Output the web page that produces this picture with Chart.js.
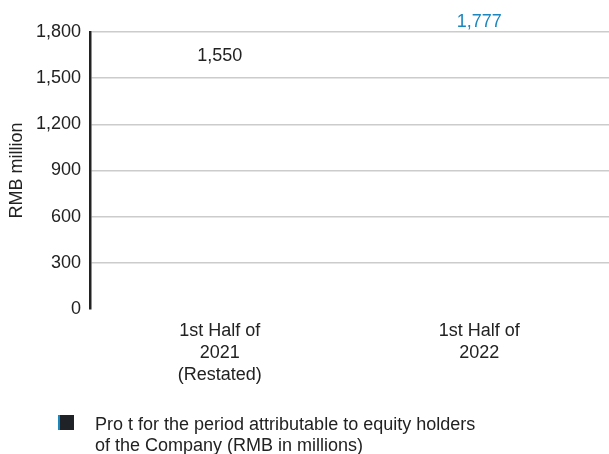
<!DOCTYPE html>
<html>
<head>
<meta charset="utf-8">
<script src="https://cdn.jsdelivr.net/npm/chart.js@4"></script>
<style>
  html, body { margin: 0; padding: 0; background: #fff; }
  #wrap { width: 609px; height: 454px; }
</style>
</head>
<body>
<div id="wrap"><canvas id="chart" width="609" height="454"></canvas></div>
<script>
// Categories and values
const categories = [['1st Half of', '2021', '(Restated)'], ['1st Half of', '2022']];
const profit = [1550, 1777];
const valueColors = ['#222222', '#1a87bf'];
const legendLines = ['Pro t for the period attributable to equity holders', 'of the Company (RMB in millions)'];
const yMax = 1800;
const yStep = 300;

const FONT = '"Liberation Sans", Arial, sans-serif';

// Value labels drawn above each (invisible) bar
const valueLabels = {
  id: 'valueLabels',
  afterDatasetsDraw(chart) {
    const ctx = chart.ctx;
    const meta = chart.getDatasetMeta(0);
    ctx.save();
    ctx.font = '18px ' + FONT;
    ctx.textAlign = 'center';
    ctx.textBaseline = 'middle';
    meta.data.forEach((bar, i) => {
      ctx.fillStyle = valueColors[i];
      ctx.fillText(profit[i].toLocaleString('en-US'), bar.x, bar.y - 14);
    });
    ctx.restore();
  }
};

// Legend box with two text lines at the bottom
const bottomLegend = {
  id: 'bottomLegend',
  afterDraw(chart) {
    const ctx = chart.ctx;
    ctx.save();
    ctx.fillStyle = '#1f2327';
    ctx.fillRect(58, 415, 16, 15);
    ctx.fillStyle = '#1a87bf';
    ctx.fillRect(58, 415, 2, 15);
    ctx.font = '18px ' + FONT;
    ctx.fillStyle = '#222222';
    ctx.textAlign = 'left';
    ctx.textBaseline = 'middle';
    legendLines.forEach((line, i) => {
      ctx.fillText(line, 95, 425 + i * 21);
    });
    ctx.restore();
  }
};

new Chart(document.getElementById('chart'), {
  type: 'bar',
  data: {
    labels: categories,
    datasets: [{
      label: legendLines.join(' '),
      data: profit,
      backgroundColor: 'rgba(0,0,0,0)',
      borderWidth: 0
    }]
  },
  options: {
    responsive: false,
    animation: false,
    layout: { padding: { top: 32, right: 0, bottom: 0, left: 0 } },
    plugins: {
      legend: { display: false },
      tooltip: { enabled: false }
    },
    scales: {
      x: {
        grid: { display: false, drawTicks: false },
        border: { display: false },
        ticks: {
          color: '#222222',
          padding: 11,
          maxRotation: 0,
          font: { family: FONT, size: 18, lineHeight: 1.22 }
        },
        afterFit(scale) { scale.height = 145; }
      },
      y: {
        min: 0,
        max: yMax,
        ticks: {
          stepSize: yStep,
          color: '#222222',
          padding: 9,
          font: { family: FONT, size: 18 },
          callback: v => v.toLocaleString('en-US')
        },
        grid: {
          drawTicks: false,
          color: ctx => ctx.tick && ctx.tick.value === 0 ? 'rgba(0,0,0,0)' : '#cccccc',
          lineWidth: 1.5
        },
        border: { display: true, color: '#222222', width: 2.5 },
        title: {
          display: true,
          text: 'RMB million',
          color: '#222222',
          font: { family: FONT, size: 18 },
          padding: { top: 6, bottom: 0 }
        },
        afterFit(scale) { scale.width = 90; }
      }
    }
  },
  plugins: [valueLabels, bottomLegend]
});
</script>
</body>
</html>
